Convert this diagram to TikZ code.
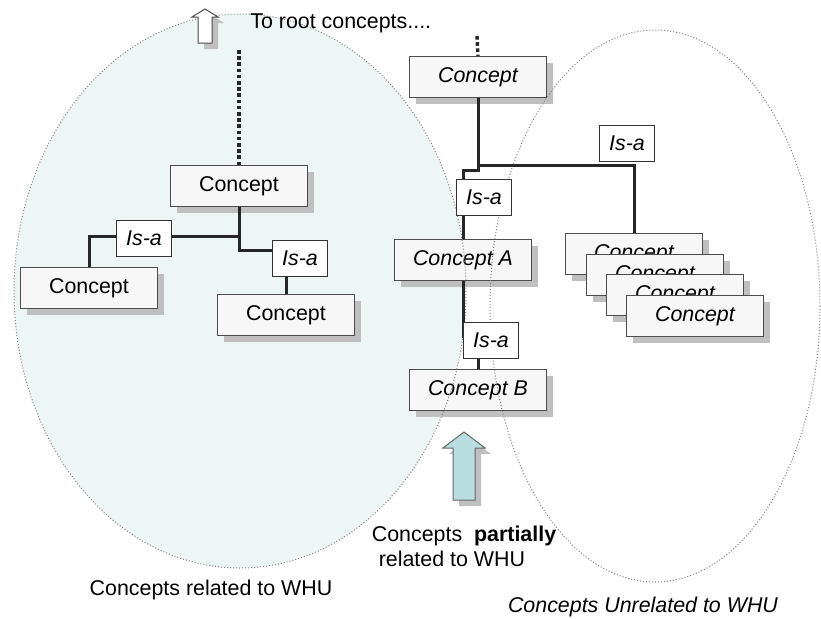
\documentclass[tikz,border=0pt]{standalone}
\usepackage{fontspec}
\setmainfont{Liberation Sans}
\usetikzlibrary{shadows}
\definecolor{whufill}{RGB}{238,245,245}
\definecolor{partblue}{RGB}{186,221,226}

\begin{document}
\begin{tikzpicture}[x=0.5pt, y=-0.5pt, font=\fontsize{10.7}{12.5}\selectfont,
                shade box/.style={drop shadow={shadow xshift=3pt, shadow yshift=-3pt, fill=black!25, opacity=1}},
                box/.style={shade box, draw=black!70, line width=0.5pt, fill=black!3, minimum width=68.5pt, minimum height=20.5pt, inner sep=0},
                rim/.style={draw=black!50, line width=0.5pt, densely dotted},
                dotline/.style={line width=1.7pt, dash pattern=on 1.8pt off 1.3pt}]
        \useasboundingbox (0,0) rectangle (821,618);
        \fill[whufill] (240,291) ellipse [x radius=226, y radius=277];
        % left tree
        \begin{scope}[every node/.style={box}]
                \node (lc) at (239,186) {Concept};
                \node (lcl) at (89,288) {Concept};
                \node (lcr) at (286,315) {Concept};
        \end{scope}
        % right tree and the stack
        \begin{scope}[every node/.style={box, font=\fontsize{10.7}{12.5}\selectfont\itshape}]
                \node (rc) at (478,77) {Concept};
                \node (ca) at (463,260) {Concept A};
                \node (cb) at (478,390) {Concept B};
                \node (s1) at (634,254) {Concept};
                \node (s2) at (655,275) {Concept};
                \node (s3) at (675,295) {Concept};
                \node (s4) at (695,316) {Concept};
        \end{scope}
        \draw[rim] (240,291) ellipse [x radius=226, y radius=277];
        \draw[rim] (655,306) ellipse [x radius=165, y radius=276];
        % arrows
        \draw[shade box, fill=white, draw=black!70, line width=0.5pt] (198,43) -- (198,17) -- (192,17) -- (205,9) -- (218,17) -- (212,17) -- (212,43) -- cycle;
        \draw[shade box, fill=partblue, draw=black!60, line width=0.5pt] (453,500) -- (453,448) -- (443,448) -- (464,432) -- (485,448) -- (475,448) -- (475,500) -- cycle;
        \coordinate (ltop) at (239,50);
        \coordinate (rtop) at (477,36);
        \coordinate (rj) at (478,165);
        \begin{scope}[every path/.style={draw=black!85, line width=1.5pt}]
                \path[dotline] (ltop) -- (lc.north);
                \path[dotline] (rtop) -- (rc.north);
                \path (lc.south) -- ++(0,29.5) -| (lcl.north);
                \path (lc.south) -- ++(0,43.5) -| (lcr.north);
                \path (rc.south) -- (rj) -| (s1.north);
                \path (rj) -- ++(0,5) -| (ca.north);
                \path (ca.south) -- ++(0,55) -| (cb.north);
        \end{scope}
        \begin{scope}[every node/.style={draw=black!80, line width=0.5pt, fill=white, minimum width=27.5pt, minimum height=18pt, inner sep=0, font=\fontsize{10.7}{12.5}\selectfont\itshape}]
                \node (i1) at (144,238) {Is-a};
                \node (i2) at (300,258) {Is-a};
                \node (i3) at (484,197) {Is-a};
                \node (i4) at (627,143) {Is-a};
                \node (i5) at (491,340) {Is-a};
        \end{scope}
        % labels
        \node (root) [anchor=base west, inner sep=0] at (250,28) {To root concepts....};
        \node (part) [align=left, inner sep=0] at (464,546) {Concepts\ \ \textbf{partially}\\\hspace{3.5pt}related to WHU};
        \node (rel) [anchor=base] at (211,595) {Concepts related to WHU};
        \node (unrel) [anchor=base] at (643,612) {\itshape Concepts Unrelated to WHU};
\end{tikzpicture}
\end{document}
